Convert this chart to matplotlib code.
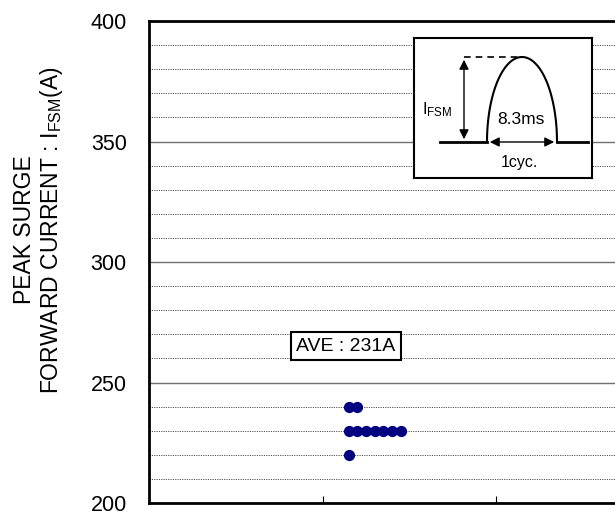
import numpy as np
import matplotlib.pyplot as plt
from matplotlib.ticker import MultipleLocator

plt.rcParams['font.family'] = ['Liberation Sans', 'DejaVu Sans']
plt.rcParams['mathtext.fontset'] = 'custom'
plt.rcParams['mathtext.rm'] = 'Liberation Sans'
plt.rcParams['mathtext.it'] = 'Liberation Sans'

# measured surge current of each sample (A)
samples = [240, 240, 230, 230, 230, 230, 230, 230, 230, 220]
ave = np.mean(samples)  # 231 A

y_ticks = [200, 250, 300, 350, 400]

fig = plt.figure(figsize=(6.15, 5.15), dpi=100)
ax = fig.add_axes([149 / 615, 12 / 515, 521 / 615, 482 / 515])
ax.set_xlim(0, 3)
ax.set_ylim(200, 400)

# minor grid every 10 A dotted, major every 50 A solid
ax.yaxis.set_major_locator(MultipleLocator(50))
ax.yaxis.set_minor_locator(MultipleLocator(10))
ax.set_yticks(y_ticks)
ax.grid(which='minor', axis='y', color='#505050', lw=0.7, ls=(0, (1.2, 1.2)))
ax.grid(which='major', axis='y', color='#707070', lw=1.0)
ax.set_xticks([1, 2])
ax.set_xticklabels([])
ax.tick_params(axis='x', direction='in', length=5, width=0.8)
ax.tick_params(axis='y', which='both', length=0, labelsize=15.5, pad=16)
for s in ['left', 'top', 'bottom']:
    ax.spines[s].set_linewidth(2)
ax.spines['right'].set_visible(False)

# stacked dot plot
counts = {}
xs = []
for v in samples:
    k = counts.get(v, 0)
    counts[v] = k + 1
    xs.append(1.15 + 0.05 * k)
ax.scatter(xs, samples, s=50, color='#000080', zorder=3, clip_on=False)

ax.text(1.135, 265, 'AVE : %dA' % round(ave), fontsize=14, ha='center', va='center',
        bbox=dict(boxstyle='square,pad=0.28', fc='white', ec='black', lw=1.5))

fig.text(25 / 615, 1 - 230 / 515, 'PEAK SURGE', rotation=90, fontsize=16.5,
         ha='center', va='center')
fig.text(52 / 615, 1 - 230 / 515, 'FORWARD CURRENT : I$_{\\rm FSM}$(A)', rotation=90,
         fontsize=16.5, ha='center', va='center')

# inset: waveform sketch
ins = fig.add_axes([414 / 615, 1 - 178 / 515, 178 / 615, 140 / 515])
ins.set_xlim(414, 592)
ins.set_ylim(178, 38)
ins.set_xticks([])
ins.set_yticks([])
for s in ins.spines.values():
    s.set_linewidth(1.5)
t = np.linspace(0, np.pi, 100)
ins.plot(522 + 35 * np.cos(t), 142 - 85 * np.sin(t), color='black', lw=1.5)
ins.plot([440, 487], [142, 142], color='black', lw=2)
ins.plot([557, 588], [142, 142], color='black', lw=2)
ins.plot([464, 522], [57, 57], color='black', lw=1.2, ls=(0, (4, 3)))
ins.annotate('', xy=(464, 57), xytext=(464, 142),
             arrowprops=dict(arrowstyle='<|-|>', color='black', lw=1, mutation_scale=14))
ins.annotate('', xy=(487, 142), xytext=(557, 142),
             arrowprops=dict(arrowstyle='<|-|>', color='black', lw=1, mutation_scale=14))
ins.text(437, 110, 'I$_{\\rm FSM}$', fontsize=12, ha='center', va='center')
ins.text(521, 119, '8.3ms', fontsize=12.5, ha='center', va='center')
ins.text(519, 162, '1cyc.', fontsize=11.5, ha='center', va='center')

fig.savefig('out.png', dpi=100)
